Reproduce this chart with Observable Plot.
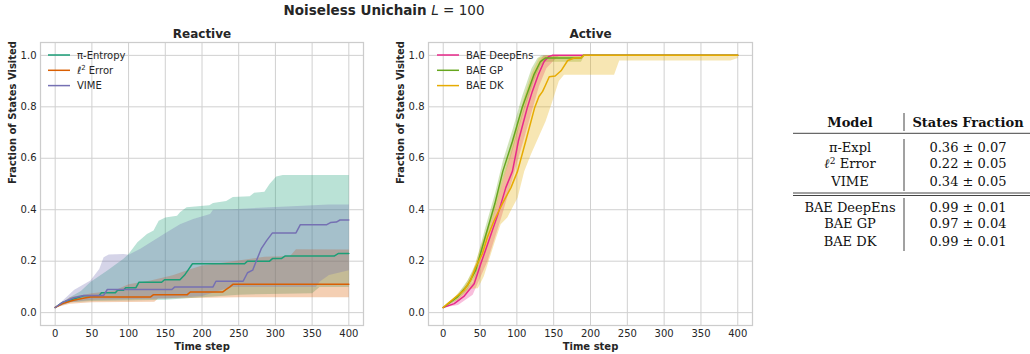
<!DOCTYPE html>
<html><head><meta charset="utf-8">
<script src="https://cdn.jsdelivr.net/npm/d3@7"></script>
<script src="https://cdn.jsdelivr.net/npm/@observablehq/plot@0.6"></script>
<style>
html,body{margin:0;padding:0;background:#fff;}
#root{position:relative;width:1030px;height:354px;overflow:hidden;font-family:"DejaVu Sans",sans-serif;color:#262626;}
#root > svg{position:absolute;}
</style></head><body><div id="root"></div>
<script>
// ---------- data (time step, fraction of states visited) ----------
const reactiveNames = ["π-Entropy", "ℓ2 Error", "VIME"];
const activeNames = ["BAE DeepEns", "BAE GP", "BAE DK"];
const xTicks = [0, 50, 100, 150, 200, 250, 300, 350, 400];
const yTicks = [0, 0.2, 0.4, 0.6, 0.8, 1.0];

const entropyMean = [[0,0.02],[10,0.04],[25,0.053],[40,0.066],[60,0.067],[63,0.077],[82,0.077],[85,0.087],[93,0.087],[96,0.097],[110,0.097],[114,0.118],[145,0.118],[149,0.128],[170,0.128],[176,0.145],[181,0.165],[187,0.19],[258,0.19],[262,0.2],[292,0.2],[296,0.21],[308,0.21],[313,0.22],[380,0.22],[386,0.23],[400,0.23]];
const entropyUpper = [[0,0.02],[20,0.06],[35,0.084],[48,0.119],[71,0.164],[93,0.209],[100,0.228],[112,0.274],[125,0.306],[134,0.319],[141,0.357],[150,0.37],[166,0.377],[170,0.39],[179,0.41],[202,0.415],[210,0.417],[215,0.426],[233,0.434],[242,0.449],[265,0.452],[271,0.466],[285,0.47],[292,0.5],[301,0.529],[310,0.535],[400,0.535]];
const entropyLower = [[0,0.02],[20,0.04],[50,0.045],[150,0.05],[200,0.06],[250,0.07],[350,0.075],[360,0.1],[400,0.1]];

const l2Mean = [[0,0.02],[10,0.035],[25,0.048],[40,0.057],[48,0.061],[130,0.061],[134,0.07],[180,0.07],[184,0.08],[228,0.08],[233,0.09],[238,0.1],[242,0.11],[400,0.11]];
const l2Upper = [[0,0.02],[20,0.06],[50,0.075],[80,0.085],[100,0.11],[130,0.125],[160,0.145],[185,0.17],[200,0.183],[235,0.197],[285,0.217],[320,0.22],[328,0.246],[400,0.245]];
const l2Lower = [[0,0.02],[20,0.035],[50,0.04],[135,0.042],[140,0.055],[250,0.06],[400,0.06]];

const vimeMean = [[0,0.02],[10,0.04],[25,0.058],[39,0.067],[66,0.067],[71,0.09],[159,0.09],[163,0.1],[215,0.1],[219,0.122],[256,0.122],[262,0.155],[269,0.165],[276,0.215],[281,0.25],[288,0.28],[296,0.31],[328,0.31],[334,0.342],[370,0.342],[375,0.35],[383,0.352],[388,0.36],[400,0.36]];
const vimeUpper = [[0,0.02],[15,0.06],[26,0.089],[48,0.125],[60,0.17],[66,0.215],[73,0.226],[93,0.228],[100,0.225],[116,0.248],[134,0.28],[152,0.312],[170,0.344],[188,0.364],[211,0.383],[215,0.4],[242,0.402],[323,0.414],[373,0.42],[400,0.42]];
const vimeLower = [[0,0.02],[20,0.04],[50,0.05],[150,0.055],[200,0.065],[240,0.1],[355,0.1],[360,0.12],[373,0.146],[400,0.165]];

const deepEnsMean = [[0,0.02],[15,0.035],[28,0.063],[42,0.112],[51,0.19],[62,0.28],[74,0.38],[85,0.486],[94,0.55],[102,0.666],[114,0.795],[121,0.86],[129,0.924],[137,0.976],[143,0.995],[148,1.0],[400,1.0]];
const deepEnsUpper = [[0,0.02],[20,0.055],[40,0.12],[60,0.29],[80,0.5],[100,0.7],[120,0.9],[130,0.97],[136,1.0],[400,1.0]];
const deepEnsLower = [[0,0.02],[20,0.03],[40,0.07],[60,0.2],[80,0.38],[100,0.58],[120,0.78],[130,0.88],[140,0.95],[150,0.98],[158,1.0],[400,1.0]];

const gpMean = [[0,0.02],[19,0.06],[33,0.106],[44,0.164],[57,0.293],[70,0.422],[81,0.55],[94,0.666],[107,0.795],[123,0.924],[132,0.976],[139,0.99],[187,0.99],[190,1.0],[400,1.0]];
const gpUpper = [[0,0.02],[19,0.07],[33,0.125],[44,0.19],[57,0.33],[70,0.46],[81,0.59],[94,0.71],[107,0.84],[120,0.95],[128,0.99],[134,1.0],[400,1.0]];
const gpLower = [[0,0.02],[19,0.05],[33,0.09],[44,0.145],[57,0.265],[70,0.39],[81,0.51],[94,0.63],[107,0.76],[123,0.9],[132,0.96],[139,0.975],[187,0.975],[192,1.0],[400,1.0]];

const dkMean = [[0,0.02],[6,0.035],[28,0.086],[37,0.125],[44,0.177],[53,0.228],[60,0.293],[69,0.357],[80,0.422],[92,0.486],[101,0.55],[112,0.666],[124,0.795],[130,0.84],[135,0.86],[139,0.885],[144,0.917],[152,0.92],[160,0.94],[169,0.98],[178,0.99],[187,0.99],[191,1.0],[400,1.0]];
const dkUpper = [[0,0.02],[10,0.045],[28,0.1],[40,0.16],[50,0.25],[60,0.33],[70,0.42],[80,0.52],[90,0.62],[100,0.73],[110,0.84],[120,0.93],[130,0.99],[140,1.0],[400,1.0]];
const dkLower = [[0,0.02],[20,0.05],[37,0.093],[47,0.095],[55,0.14],[69,0.267],[78,0.344],[87,0.37],[101,0.447],[110,0.55],[119,0.615],[139,0.744],[148,0.82],[157,0.9],[164,0.925],[232,0.925],[239,0.98],[390,0.98],[400,0.99]];

const tableModels = ["π-Expl", "ℓ2 Error", "VIME", "BAE DeepEns", "BAE GP", "BAE DK"];
const tableMeans = [0.36, 0.22, 0.34, 0.99, 0.97, 0.99];
const tableStds = [0.07, 0.05, 0.05, 0.01, 0.04, 0.01];

// ---------- styling ----------
const reactiveColors = ["#1b9e77", "#d95f02", "#7570b3"];
const activeColors = ["#e7298a", "#66a61e", "#e6ab02"];
const GRID = "#d0d0d0";
const TEXT = "#262626";

const toRows = arr => arr.map(([t, v]) => ({t, v}));
const bandPoly = (up, lo) => toRows(up.concat(lo.slice().reverse()));

function panel({title, series, colors, marginLeft, marginRight, width}) {
  const marks = [
    Plot.gridX(xTicks, {stroke: GRID, strokeOpacity: 1, strokeWidth: 1}),
    Plot.gridY(yTicks, {stroke: GRID, strokeOpacity: 1, strokeWidth: 1}),
  ];
  series.forEach((s, i) => {
    marks.push(Plot.line(bandPoly(s.upper, s.lower), {x: "t", y: "v", fill: colors[i], fillOpacity: 0.3, stroke: "none"}));
  });
  series.forEach((s, i) => {
    marks.push(Plot.line(toRows(s.mean), {x: "t", y: "v", stroke: colors[i], strokeWidth: 1.5, strokeLinejoin: "round"}));
  });
  marks.push(
    Plot.frame({stroke: "#cccccc", strokeWidth: 1.25}),
    Plot.axisX(xTicks, {tickSize: 0, tickPadding: 4, label: null, fontSize: 10, fill: TEXT}),
    Plot.axisY(yTicks, {tickSize: 0, tickPadding: 4, label: null, tickFormat: d3.format(".1f"), fontSize: 10, fill: TEXT}),
    Plot.text([title], {frameAnchor: "top", lineAnchor: "bottom", dy: -5, fontWeight: "bold", fontSize: 12, fill: TEXT}),
    Plot.text(["Time step"], {frameAnchor: "bottom", lineAnchor: "bottom", dy: 24, fontWeight: "bold", fontSize: 10, fill: TEXT}),
    Plot.text(["Fraction of States Visited"], {frameAnchor: "left", rotate: -90, dx: -28, fontWeight: "bold", fontSize: 10, fill: TEXT})
  );
  return Plot.plot({
    width, height: 354,
    marginLeft, marginRight, marginTop: 42, marginBottom: 29,
    x: {domain: [-20, 420]},
    y: {domain: [-0.05, 1.05]},
    style: {fontFamily: "DejaVu Sans", fontSize: "10px", color: TEXT, background: "transparent"},
    marks
  });
}

const root = document.getElementById("root");
const left = panel({
  title: "Reactive", colors: reactiveColors, width: 380, marginLeft: 40, marginRight: 17,
  series: [
    {mean: entropyMean, upper: entropyUpper, lower: entropyLower},
    {mean: l2Mean, upper: l2Upper, lower: l2Lower},
    {mean: vimeMean, upper: vimeUpper, lower: vimeLower}
  ]
});
left.style.left = "0px"; left.style.top = "0px";
root.appendChild(left);

const right = panel({
  title: "Active", colors: activeColors, width: 390, marginLeft: 43, marginRight: 23,
  series: [
    {mean: deepEnsMean, upper: deepEnsUpper, lower: deepEnsLower},
    {mean: gpMean, upper: gpUpper, lower: gpLower},
    {mean: dkMean, upper: dkUpper, lower: dkLower}
  ]
});
right.style.left = "385px"; right.style.top = "0px";
root.appendChild(right);

// ---------- overlay: title, legends, table ----------
const ov = d3.select(root).append("svg").attr("width", 1030).attr("height", 354)
  .style("left", "0px").style("top", "0px").attr("font-family", "DejaVu Sans");

const tt = ov.append("text").attr("x", 384).attr("y", 15).attr("text-anchor", "middle")
  .attr("font-size", 13.5).attr("fill", TEXT);
tt.append("tspan").attr("font-weight", "bold").text("Noiseless Unichain ");
tt.append("tspan").attr("font-style", "italic").text("L");
tt.append("tspan").text(" = 100");

function writeLabel(sel, name) {
  if (name.startsWith("ℓ2")) {
    sel.append("tspan").attr("font-style", "italic").text("ℓ");
    sel.append("tspan").attr("font-size", "0.7em").attr("dy", -4).text("2");
    sel.append("tspan").attr("dy", 4).text(" " + name.slice(3));
  } else sel.text(name);
}

function legend(x0, names, colors) {
  names.forEach((n, i) => {
    const y = 55 + i * 15.3;
    ov.append("line").attr("x1", x0).attr("x2", x0 + 22).attr("y1", y).attr("y2", y)
      .attr("stroke", colors[i]).attr("stroke-width", 1.5);
    const t = ov.append("text").attr("x", x0 + 29).attr("y", y + 3.6).attr("font-size", 10).attr("fill", TEXT);
    writeLabel(t, n);
  });
}
legend(48, reactiveNames, reactiveColors);
legend(437, activeNames, activeColors);

// table
const tab = ov.append("g").attr("font-family", "DejaVu Serif").attr("fill", "#111");
const colA = 850, colB = 968, vx = 904;
tab.append("text").attr("x", colA).attr("y", 126.5).attr("text-anchor", "middle").attr("font-weight", "bold").attr("font-size", 13).text("Model");
tab.append("text").attr("x", colB).attr("y", 126.5).attr("text-anchor", "middle").attr("font-weight", "bold").attr("font-size", 13).text("States Fraction");
const rowY = [151.7, 168.3, 186, 211.7, 228.3, 246.3];
tableModels.forEach((m, i) => {
  const t = tab.append("text").attr("x", colA).attr("y", rowY[i]).attr("text-anchor", "middle").attr("font-size", 13);
  writeLabel(t, m);
  tab.append("text").attr("x", colB).attr("y", rowY[i]).attr("text-anchor", "middle").attr("font-size", 13)
    .text(`${tableMeans[i].toFixed(2)} ± ${tableStds[i].toFixed(2)}`);
});
const rule = (x1, x2, y1, y2) => tab.append("line").attr("x1", x1).attr("x2", x2).attr("y1", y1).attr("y2", y2)
  .attr("stroke", "#444").attr("stroke-width", 1);
rule(793, 1030, 133.3, 133.3);
rule(793, 1030, 193, 193);
rule(793, 1030, 195.5, 195.5);
rule(vx, vx, 113, 131);
rule(vx, vx, 139, 191);
rule(vx, vx, 198, 251);
</script></body></html>
